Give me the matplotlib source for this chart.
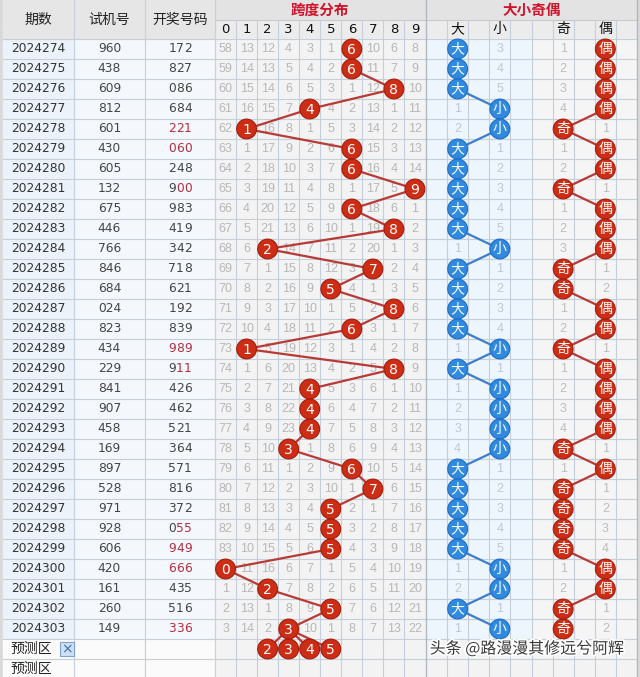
import matplotlib
matplotlib.use('Agg')
import matplotlib.pyplot as plt
from matplotlib.patches import Rectangle, Circle
import matplotlib.patheffects as pe

plt.rcParams['font.family'] = ['Noto Sans CJK SC', 'DejaVu Sans']

# ---------------- data ----------------
periods = [str(p) for p in range(2024274, 2024304)]
test_nums = ["960", "438", "609", "812", "601", "430", "605", "132", "675", "446",
             "766", "846", "684", "024", "823", "434", "229", "841", "907", "458",
             "169", "897", "528", "971", "928", "606", "420", "161", "260", "149"]
draws = ["172", "827", "086", "684", "221", "060", "248", "900", "983", "419",
         "342", "718", "621", "192", "839", "989", "911", "426", "462", "521",
         "364", "571", "816", "372", "055", "949", "666", "435", "516", "336"]
# omission values shown in the first row (hit column = 0)
first_miss = [58, 13, 12, 4, 3, 1, 0, 10, 6, 8]
first_big_miss, first_small_miss = 0, 3
first_odd_miss, first_even_miss = 1, 0
predict_spans = [2, 3, 4, 5]
span_labels = [str(d) for d in range(10)]
bs_labels = ["大", "小", "奇", "偶"]

# ---------------- derived ----------------
spans = [max(int(c) for c in d) - min(int(c) for c in d) for d in draws]
n = len(spans)
miss = [first_miss[:]]
for i in range(1, n):
    miss.append([0 if spans[i] == c else miss[-1][c] + 1 for c in range(10)])
big = [s >= 5 for s in spans]
odd = [s % 2 == 1 for s in spans]
mb, ms, mo, me = [first_big_miss], [first_small_miss], [first_odd_miss], [first_even_miss]
for i in range(1, n):
    mb.append(0 if big[i] else mb[-1] + 1)
    ms.append(0 if not big[i] else ms[-1] + 1)
    mo.append(0 if odd[i] else mo[-1] + 1)
    me.append(0 if not odd[i] else me[-1] + 1)

# ---------------- layout ----------------
W, H = 640, 677
fig = plt.figure(figsize=(W / 100, H / 100), dpi=100)
ax = fig.add_axes([0, 0, 1, 1])
ax.set_xlim(0, W)
ax.set_ylim(H, 0)
ax.axis('off')

left_edges = [3, 74, 145, 215]
sx0, scw = 215, 21.05
bx0, bcw = 426, 21.1
bx1 = bx0 + 10 * bcw
hdr1, hdr2 = 19.5, 39
rh = 20
ypred1 = hdr2 + n * rh
ypred2 = ypred1 + rh

def rowc(i):
    return hdr2 + rh * i + rh / 2

def sx(c):
    return sx0 + scw * c + scw / 2

def bx(c):
    return bx0 + bcw * c + bcw / 2

bs_cols = {"大": 1, "小": 3, "奇": 6, "偶": 8}

# backgrounds
ax.add_patch(Rectangle((0, 0), W, H, color='#d9d9d9', zorder=0))
ax.add_patch(Rectangle((3, 0), bx1 - 3, hdr1, color='#e3e3e3', zorder=0.5))
ax.add_patch(Rectangle((3, hdr1), bx1 - 3, hdr2 - hdr1, color='#ececec', zorder=0.5))
ax.add_patch(Rectangle((3, 0), 212, hdr2, color='#e6e6e6', zorder=0.6))
ax.add_patch(Rectangle((3, hdr2), 71, n * rh, color='#ebf2fa', zorder=0.5))
ax.add_patch(Rectangle((74, hdr2), 141, n * rh, color='#f4f8fc', zorder=0.5))
ax.add_patch(Rectangle((sx0, hdr2), 10 * scw, H - hdr2, color='#f3f3f3', zorder=0.5))
ax.add_patch(Rectangle((bx0, hdr2), 5 * bcw, n * rh, color='#edf5fd', zorder=0.5))
ax.add_patch(Rectangle((bx0 + 5 * bcw, hdr2), 5 * bcw, n * rh, color='#f5f5f5', zorder=0.5))
ax.add_patch(Rectangle((bx0, ypred1), 10 * bcw, H - ypred1, color='#f3f3f3', zorder=0.5))
ax.add_patch(Rectangle((3, ypred1), 212, H - ypred1, color='#fbfbfb', zorder=0.5))

gc = '#c5cfdc'
# horizontal grid lines
for i in range(n + 3):
    y = hdr2 + rh * i
    ax.plot([3, bx1], [y, y], color=gc, lw=0.8, zorder=1)
ax.plot([sx0, bx1], [hdr1, hdr1], color='#c8c8c8', lw=0.8, zorder=1)
# vertical grid lines
for x in left_edges[1:]:
    ax.plot([x, x], [0, H], color='#c8d2de', lw=0.9, zorder=1)
for c in range(1, 10):
    ax.plot([sx0 + scw * c] * 2, [hdr1, H], color=gc, lw=0.8, zorder=1)
    ax.plot([bx0 + bcw * c] * 2, [hdr1, H], color=gc, lw=0.8, zorder=1)
ax.plot([bx0, bx0], [0, H], color='#b0b8c4', lw=1.0, zorder=1)
ax.plot([bx1, bx1], [0, H], color='#b0b8c4', lw=1.0, zorder=1)

# headers
for txt, (a, b) in zip(["期数", "试机号", "开奖号码"], zip(left_edges[:-1], left_edges[1:])):
    ax.text((a + b) / 2, hdr2 / 2, txt, ha='center', va='center', fontsize=10, color='#222', zorder=3)
ax.text(sx0 + 5 * scw, hdr1 / 2 + 0.5, "跨度分布", ha='center', va='center', fontsize=10.5,
        color='#d0142c', fontweight='bold', zorder=3)
ax.text(bx0 + 5 * bcw, hdr1 / 2 + 0.5, "大小奇偶", ha='center', va='center', fontsize=10.5,
        color='#d0142c', fontweight='bold', zorder=3)
for c, lab in enumerate(span_labels):
    ax.text(sx(c), (hdr1 + hdr2) / 2, lab, ha='center', va='center', fontsize=9.5,
            color='#111', family='DejaVu Sans', zorder=3)
for lab in bs_labels:
    ax.text(bx(bs_cols[lab]), (hdr1 + hdr2) / 2, lab, ha='center', va='center', fontsize=10,
            color='#111', zorder=3)

# left columns
dw = 7.9
for i in range(n):
    y = rowc(i)
    ax.text((3 + 74) / 2, y, periods[i], ha='center', va='center', fontsize=8.8,
            color='#333', family='DejaVu Sans', zorder=3)
    ax.text((74 + 145) / 2, y, test_nums[i], ha='center', va='center', fontsize=8.8,
            color='#444', family='DejaVu Sans', zorder=3)
    d = draws[i]
    rep = [k for k in range(3) if d.count(d[k]) > 1]
    start = rep[0] if rep else 3
    for k in range(3):
        col = '#b03040' if k >= start else '#444'
        ax.text(180 + (k - 1) * dw, y, d[k], ha='center', va='center', fontsize=8.8,
                color=col, family='DejaVu Sans', zorder=3)

# prediction rows
ax.text(10, ypred1 + rh / 2, "预测区", ha='left', va='center', fontsize=10, color='#222', zorder=3)
ax.text(10, ypred2 + rh / 2, "预测区", ha='left', va='center', fontsize=10, color='#222', zorder=3)
ax.add_patch(Rectangle((60, ypred1 + 3), 13.5, 13.5, facecolor='#cfe0f4', edgecolor='#7ea3cf',
                       lw=0.8, zorder=3))
ax.text(66.8, ypred1 + rh / 2, "×", ha='center', va='center', fontsize=10, color='#3a6fb0',
        family='DejaVu Sans', zorder=4)

# omission numbers
for i in range(n):
    y = rowc(i)
    for c in range(10):
        if miss[i][c] > 0:
            ax.text(sx(c), y, str(miss[i][c]), ha='center', va='center', fontsize=9,
                    color='#b7b7b7', family='Liberation Sans', zorder=2)
    for lab, arr, colr in (("大", mb, '#bcc8d8'), ("小", ms, '#bcc8d8'),
                           ("奇", mo, '#bdbdbd'), ("偶", me, '#bdbdbd')):
        if arr[i] > 0:
            ax.text(bx(bs_cols[lab]), y, str(arr[i]), ha='center', va='center', fontsize=9,
                    color=colr, family='Liberation Sans', zorder=2)

red, redl, redline = '#cc2d14', '#a31d0c', '#b83a36'
blue, bluel, blueline = '#2f8ae0', '#1f6cc0', '#3c7fc8'
r = 9.9

# span lines and circles
ax.plot([sx(s) for s in spans], [rowc(i) for i in range(n)], color=redline, lw=1.6, zorder=4)
for s in predict_spans:
    ax.plot([sx(spans[-1]), sx(s)], [rowc(n - 1), ypred1 + rh / 2], color=redline, lw=1.6, zorder=4)
for i, s in enumerate(spans):
    ax.add_patch(Circle((sx(s), rowc(i)), r, facecolor=red, edgecolor=redl, lw=0.8, zorder=5))
    ax.text(sx(s), rowc(i) + 0.5, str(s), ha='center', va='center', fontsize=10, color='white',
            family='DejaVu Sans', zorder=6)
for s in predict_spans:
    ax.add_patch(Circle((sx(s), ypred1 + rh / 2), r, facecolor=red, edgecolor=redl, lw=0.8, zorder=5))
    ax.text(sx(s), ypred1 + rh / 2 + 0.5, str(s), ha='center', va='center', fontsize=10,
            color='white', family='DejaVu Sans', zorder=6)

# big/small
bsx = [bx(bs_cols["大"]) if b else bx(bs_cols["小"]) for b in big]
ax.plot(bsx, [rowc(i) for i in range(n)], color=blueline, lw=1.6, zorder=4)
for i, b in enumerate(big):
    ax.add_patch(Circle((bsx[i], rowc(i)), r, facecolor=blue, edgecolor=bluel, lw=0.8, zorder=5))
    ax.text(bsx[i], rowc(i), "大" if b else "小", ha='center', va='center', fontsize=10,
            color='white', zorder=6)

# odd/even
oex = [bx(bs_cols["奇"]) if o else bx(bs_cols["偶"]) for o in odd]
ax.plot(oex, [rowc(i) for i in range(n)], color=redline, lw=1.6, zorder=4)
for i, o in enumerate(odd):
    ax.add_patch(Circle((oex[i], rowc(i)), r, facecolor=red, edgecolor=redl, lw=0.8, zorder=5))
    ax.text(oex[i], rowc(i), "奇" if o else "偶", ha='center', va='center', fontsize=10,
            color='white', zorder=6)

# watermark
ax.text(527, ypred1 + rh / 2, "头条 @路漫漫其修远兮阿辉", ha='center', va='center', fontsize=11.5,
        color='#3a3a3a', zorder=7,
        path_effects=[pe.withStroke(linewidth=2.5, foreground='white')])

fig.savefig('out.png', dpi=100)
